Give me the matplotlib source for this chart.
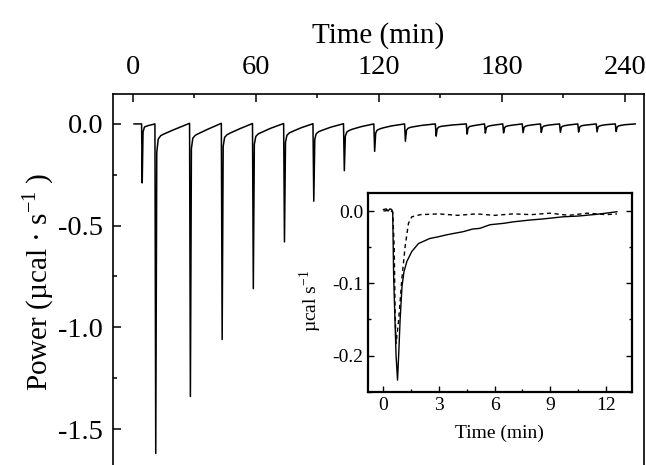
import matplotlib.pyplot as plt
from matplotlib.ticker import MultipleLocator

# ---- main ITC trace: time (min) vs power (ucal/s) ----
trace_time = [
    0.5, 4.2, 4.5, 4.9, 5.6, 7.5, 10.7,
    11.1, 11.6, 12.3, 13.5, 15.0, 20.0, 27.6,
    28.0, 28.5, 29.2, 30.4, 31.9, 36.5, 43.1,
    43.5, 44.0, 44.7, 45.9, 47.4, 52.0, 58.3,
    58.7, 59.2, 59.9, 61.1, 62.6, 67.0, 73.5,
    73.9, 74.4, 75.1, 76.3, 77.8, 82.0, 87.8,
    88.2, 88.7, 89.4, 90.6, 92.1, 96.5, 102.7,
    103.1, 103.6, 104.3, 105.5, 107.0, 111.5, 117.5,
    117.9, 118.4, 119.1, 120.3, 121.8, 126.0, 132.5,
    132.9, 133.4, 134.1, 135.3, 136.8, 141.0, 147.5,
    147.9, 148.4, 149.1, 150.3, 151.8, 156.0, 162.6,
    163.0, 163.5, 164.2, 165.4, 167.0, 171.5,
    171.9, 172.4, 173.1, 174.3, 176.0, 180.4,
    180.8, 181.3, 182.0, 183.2, 185.0, 189.9,
    190.3, 190.8, 191.5, 192.7, 194.5, 198.8,
    199.2, 199.7, 200.4, 201.6, 203.4, 208.1,
    208.5, 209.0, 209.7, 210.9, 212.7, 217.0,
    217.4, 217.9, 218.6, 219.8, 221.6, 226.0,
    226.4, 226.9, 227.6, 228.8, 230.6, 235.3,
    235.7, 236.2, 236.9, 238.1, 239.9, 245.0,
]
trace_power = [
    0.0, 0.0, -0.29, -0.04, -0.015, -0.008, 0.0,
    -1.62, -0.14, -0.075, -0.058, -0.050, -0.028, 0.003,
    -1.34, -0.12, -0.070, -0.056, -0.048, -0.026, 0.003,
    -1.06, -0.11, -0.066, -0.053, -0.045, -0.024, 0.002,
    -0.81, -0.10, -0.062, -0.049, -0.042, -0.022, 0.002,
    -0.58, -0.09, -0.056, -0.044, -0.037, -0.019, 0.001,
    -0.38, -0.075, -0.048, -0.038, -0.032, -0.016, 0.001,
    -0.23, -0.060, -0.040, -0.032, -0.026, -0.013, 0.0,
    -0.135, -0.045, -0.031, -0.025, -0.020, -0.010, 0.0,
    -0.085, -0.032, -0.022, -0.017, -0.014, -0.007, 0.0,
    -0.060, -0.024, -0.016, -0.012, -0.010, -0.005, 0.0,
    -0.050, -0.020, -0.013, -0.010, -0.007, 0.0,
    -0.045, -0.018, -0.012, -0.009, -0.006, 0.0,
    -0.044, -0.018, -0.012, -0.009, -0.006, 0.0,
    -0.043, -0.017, -0.011, -0.008, -0.005, 0.0,
    -0.042, -0.017, -0.011, -0.008, -0.005, 0.0,
    -0.041, -0.016, -0.011, -0.008, -0.005, 0.0,
    -0.040, -0.016, -0.010, -0.007, -0.005, 0.0,
    -0.039, -0.015, -0.010, -0.007, -0.004, 0.0,
    -0.037, -0.015, -0.010, -0.007, -0.004, 0.0,
]

# ---- inset: single injection, solid and dashed ----
solid_time = [0.0, 0.15, 0.25, 0.35, 0.45, 0.5, 0.55, 0.68, 0.76, 0.82, 0.9,
              1.0, 1.1, 1.26, 1.53, 1.89, 2.5, 2.9, 3.4, 3.8, 4.3, 4.8, 5.2,
              5.75, 6.5, 7.0, 7.9, 8.6, 9.7, 10.5, 11.5, 12.0, 12.6]
solid_power = [0.002, 0.003, 0.0, 0.003, 0.002, -0.003, -0.09, -0.20, -0.234,
               -0.20, -0.15, -0.105, -0.085, -0.070, -0.056, -0.045, -0.038,
               -0.036, -0.033, -0.031, -0.0286, -0.025, -0.024, -0.019, -0.017,
               -0.015, -0.0125, -0.011, -0.008, -0.007, -0.0046, -0.003, -0.001]
dash_time = [0.0, 0.3, 0.5, 0.58, 0.63, 0.68, 0.82, 0.99, 1.17, 1.35, 1.53,
             2.0, 3.0, 4.0, 5.0, 6.0, 7.0, 8.0, 9.0, 10.0, 11.0, 12.0, 12.6]
dash_power = [0.0, 0.001, -0.001, -0.05, -0.14, -0.183, -0.151, -0.095,
              -0.049, -0.017, -0.008, -0.005, -0.004, -0.006, -0.004, -0.006,
              -0.004, -0.005, -0.003, -0.006, -0.003, -0.005, -0.004]

main_xticks = [0, 60, 120, 180, 240]
main_yticks = [0.0, -0.5, -1.0, -1.5]
main_ylabels = ['0.0', '-0.5', '-1.0', '-1.5']
inset_xticks = [0, 3, 6, 9, 12]
inset_yticks = [0.0, -0.1, -0.2]
inset_ylabels = ['0.0', '-0.1', '-0.2']

plt.rcParams['font.family'] = ['Liberation Serif', 'DejaVu Serif']
plt.rcParams['mathtext.fontset'] = 'custom'
plt.rcParams['mathtext.rm'] = 'Liberation Serif'
plt.rcParams['axes.unicode_minus'] = False

fig = plt.figure(figsize=(6.46, 4.65), dpi=100)

# main panel (its bottom edge runs off the picture, as in the original)
ax = fig.add_axes([0.1749, -0.0101, 0.822, 0.8079])
ax.plot(trace_time, trace_power, color='black', lw=1.1)
ax.set_xlim(-9.76, 249.3)
ax.set_ylim(-1.70, 0.147)
ax.xaxis.tick_top()
ax.xaxis.set_label_position('top')
ax.set_xticks(main_xticks)
ax.xaxis.set_minor_locator(MultipleLocator(30))
ax.set_yticks(main_yticks, main_ylabels)
ax.yaxis.set_minor_locator(MultipleLocator(0.25))
ax.tick_params(which='both', direction='in', top=True, bottom=False,
               left=True, right=False, labelsize=20.5, width=1.1)
ax.tick_params(which='major', length=5.5)
ax.tick_params(which='minor', length=3)
ax.tick_params(axis='x', pad=10)
ax.tick_params(axis='y', pad=7)
ax.spines['bottom'].set_visible(False)
for s in ['top', 'left', 'right']:
    ax.spines[s].set_linewidth(1.2)
ax.set_xlabel('Time (min)', fontsize=21)
ax.xaxis.set_label_coords(0.5, 1.138)
ax.set_ylabel('Power (µcal · s$^{-1}$ )', fontsize=21)
ax.yaxis.set_label_coords(-0.108, 0.5)

# inset
axin = fig.add_axes([0.5692, 0.1576, 0.4087, 0.4267])
axin.plot(solid_time, solid_power, color='black', lw=1.0)
axin.plot(dash_time, dash_power, color='black', lw=1.0, ls=(0, (3, 2.5)))
axin.set_xlim(-0.85, 13.4)
axin.set_ylim(-0.25, 0.0245)
axin.set_xticks(inset_xticks)
axin.xaxis.set_minor_locator(MultipleLocator(1.5))
axin.set_yticks(inset_yticks, inset_ylabels)
axin.yaxis.set_minor_locator(MultipleLocator(0.05))
axin.tick_params(which='both', direction='in', top=False, right=True,
                 labelsize=14, width=1.0)
axin.tick_params(which='major', length=4)
axin.tick_params(which='minor', length=2.5)
axin.tick_params(axis='x', pad=4)
axin.tick_params(axis='y', pad=3)
for s in axin.spines.values():
    s.set_linewidth(1.6)
axin.set_xlabel('Time (min)', fontsize=14)
axin.xaxis.set_label_coords(0.5, -0.165)
axin.set_ylabel('µcal s$^{-1}$', fontsize=14)
axin.yaxis.set_label_coords(-0.165, 0.457)

fig.savefig('out.png', dpi=100)
